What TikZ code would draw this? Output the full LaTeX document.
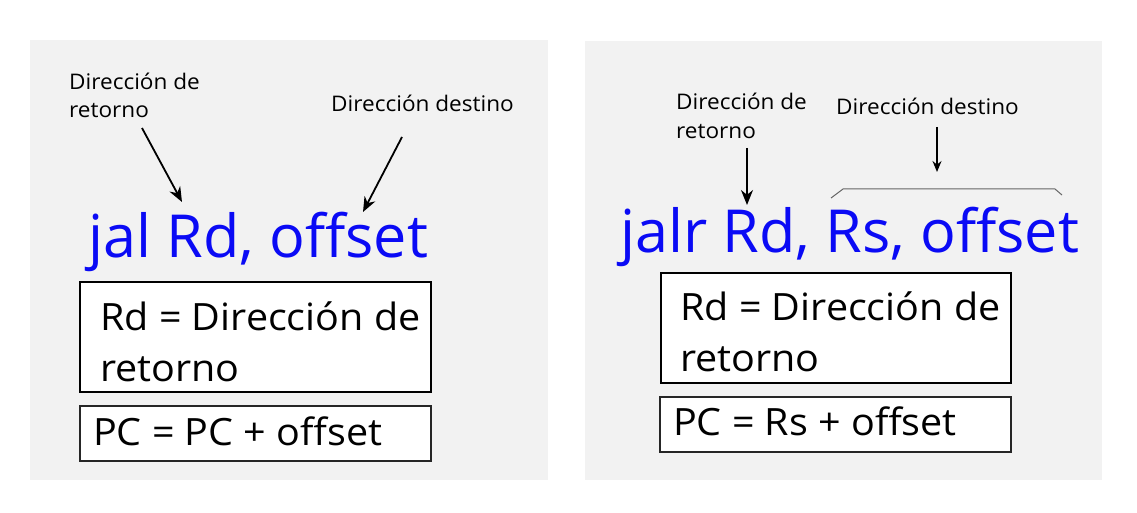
\documentclass[tikz,border=0pt]{standalone}
\usepackage{fontspec}
\setmainfont{Open Sans}
\newfontfamily\widefont[FakeStretch=1.05]{Open Sans}
\usetikzlibrary{arrows.meta}
\definecolor{panelgray}{RGB}{242,242,242}
\definecolor{insblue}{RGB}{10,10,245}
\tikzset{
  panel/.style={fill=panelgray, draw=none},
  small/.style={anchor=base west, inner sep=0pt, font=\widefont\fontsize{21.5}{26}\selectfont},
  instr/.style={anchor=base west, inner sep=0pt, text=insblue, font=\fontsize{59.3}{70}\selectfont},
  mid/.style={anchor=base west, inner sep=0pt, font=\widefont\fontsize{37.6}{44}\selectfont},
  boxa/.style={draw=black, line width=1.4pt, fill=white},
  boxb/.style={draw=black!85, line width=1.1pt, fill=white},
  pointer/.style={line width=1.8pt, -{Stealth[length=15pt,width=12pt]}},
  bracket/.style={draw=black!60, line width=1pt}
}
\begin{document}
\begin{tikzpicture}[x=1pt,y=-1pt]
\useasboundingbox (0,0) rectangle (1137,513);
\fill[white] (0,0) rectangle (1137,513);
% panels
\path[panel] (30,40) rectangle (548,480);
\path[panel] (585,41) rectangle (1102,480);

% ----- left panel -----
\node[small] (lret1) at (69,90) {Dirección de};
\node[small] (lret2) at (69,118) {retorno};
\node[small] (ldest) at (331,112) {Dirección destino};
\coordinate (la1s) at (142,128);
\coordinate (la1e) at (182,202);
\coordinate (la2s) at (402,137);
\coordinate (la2e) at (363,212);
\draw[pointer] (la1s) -- (la1e);
\draw[pointer] (la2s) -- (la2e);
\node[instr] (ljal) at (88,257) {jal Rd, offset};
\draw[boxa] (80,282) rectangle (431,392);
\node[mid] (lrd1) at (100,330) {Rd = Dirección de};
\node[mid] (lrd2) at (100,381) {retorno};
\draw[boxb] (80,406) rectangle (431,461);
\node[mid] (lpc) at (93,445) {PC = PC + offset};

% ----- right panel -----
\node[small] (rret1) at (676,110) {Dirección de};
\node[small] (rret2) at (676,139) {retorno};
\node[small] (rdest) at (836,115) {Dirección destino};
\coordinate (ra1s) at (747,148);
\coordinate (ra1e) at (747,205);
\coordinate (ra2s) at (937,127);
\coordinate (ra2e) at (937,172);
\draw[pointer] (ra1s) -- (ra1e);
\draw[pointer, -{Stealth[length=11pt,width=9pt]}, line width=1.3pt] (ra2s) -- (ra2e);
\coordinate (br1) at (831,198);
\coordinate (br2) at (843,189);
\coordinate (br3) at (1055,189);
\coordinate (br4) at (1062,195);
\draw[bracket] (br1) -- (br2) -- (br3) -- (br4);
\node[instr] (rjalr) at (620,252) {jalr Rd, Rs, offset};
\draw[boxa] (661,273) rectangle (1011,383);
\node[mid] (rrd1) at (680,320) {Rd = Dirección de};
\node[mid] (rrd2) at (680,371) {retorno};
\draw[boxb] (660,397) rectangle (1011,452);
\node[mid] (rpc) at (673,435) {PC = Rs + offset};
\end{tikzpicture}
\end{document}
